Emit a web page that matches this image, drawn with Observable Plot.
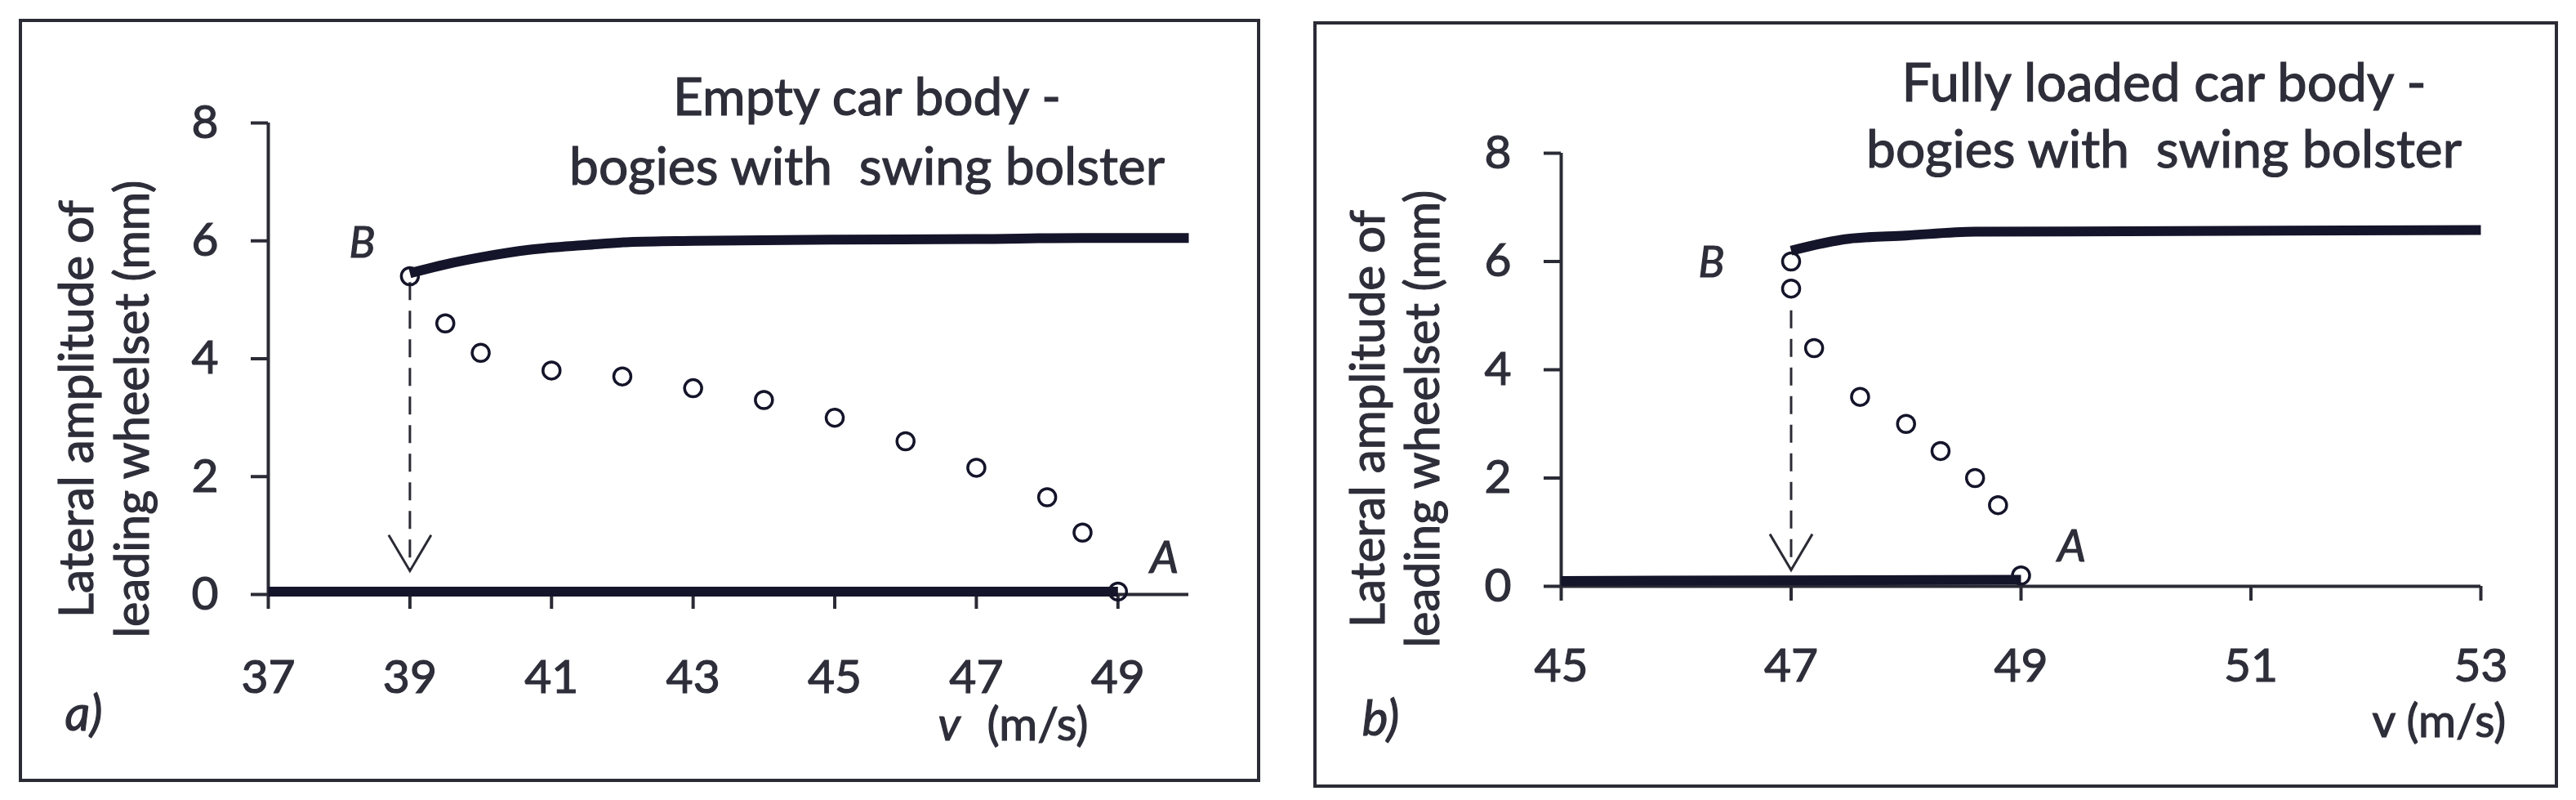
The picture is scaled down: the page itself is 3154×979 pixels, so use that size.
<!DOCTYPE html>
<html>
<head>
<meta charset="utf-8">
<script src="https://cdn.jsdelivr.net/npm/d3@7"></script>
<script src="https://cdn.jsdelivr.net/npm/@observablehq/plot@0.6"></script>
<style>
  html, body { margin: 0; padding: 0; background: #fff; width: 3154px; height: 979px; overflow: hidden; }
  .frame { position: absolute; border: 4px solid #2b2b36; box-sizing: border-box; }
  .panel { position: absolute; }
  .panel svg { overflow: visible; }
  .panel svg text { stroke: #2e2e3a; stroke-width: 1.2px; white-space: pre; }
</style>
</head>
<body>
<div id="root"></div>
<script>
// ---------- data ----------
const yTicks = [0, 2, 4, 6, 8];

// Panel a) empty car body
const titleA = ["Empty car body -", "bogies with  swing bolster"];
const xTicksA = [37, 39, 41, 43, 45, 47, 49];
const xDomainA = [37, 50];
const upperVA = [39, 39.5, 40, 40.7, 41.5, 42.1, 43, 45, 47, 48.5, 50];
const upperAmpA = [5.45, 5.6, 5.72, 5.85, 5.93, 5.98, 6.0, 6.02, 6.03, 6.05, 6.05];
const lowerVA = [37, 49];
const lowerAmpA = [0.05, 0.05];
const circVA = [39, 39.5, 40, 41, 42, 43, 44, 45, 46, 47, 48, 48.5, 49];
const circAmpA = [5.4, 4.6, 4.1, 3.8, 3.7, 3.5, 3.3, 3.0, 2.6, 2.15, 1.65, 1.05, 0.05];
const jumpA = {v: 39, from: 5.3, to: 0.4};

// Panel b) fully loaded car body
const titleB = ["Fully loaded car body -", "bogies with  swing bolster"];
const xTicksB = [45, 47, 49, 51, 53];
const xDomainB = [45, 53];
const upperVB = [47, 47.5, 48, 48.6, 53];
const upperAmpB = [6.2, 6.42, 6.48, 6.55, 6.58];
const lowerVB = [45, 49];
const lowerAmpB = [0.1, 0.12];
const circVB = [47, 47, 47.2, 47.6, 48, 48.3, 48.6, 48.8, 49];
const circAmpB = [6.0, 5.5, 4.4, 3.5, 3.0, 2.5, 2.0, 1.5, 0.2];
const jumpB = {v: 47, from: 5.1, to: 0.3};

const yLabelLines = ["Lateral amplitude of", "leading wheelset (mm)"];
const xUnitA = ["v", "(m/s)"];
const xUnitB = "v (m/s)";

// ---------- drawing ----------
const INK = "#14142a";
const TXT = "#2e2e3a";
const FONT = "Lato, 'Open Sans', sans-serif";

// measured text widths in the reference (px) used to fit the font size
const fitWidths = {
  "Empty car body -": 475,
  "Fully loaded car body -": 642,
  "bogies with  swing bolster": 729,
  "Lateral amplitude of": 511,
  "leading wheelset (mm)": 560
};

const toRows = (vs, as) => vs.map((v, i) => ({v, a: as[i]}));

const vHead = {
  draw(ctx) { ctx.moveTo(-26, -44); ctx.lineTo(0, 0); ctx.lineTo(26, -44); }
};

function panel(cfg) {
  const {W, H, ml, mr, mt, mb} = cfg;
  const lab = (str, px, py, o = {}) =>
    Plot.text([str], {text: d => d, frameAnchor: "top-left", dx: px - ml, dy: py - mt,
      fill: TXT, fontSize: 57, textAnchor: "middle", lineAnchor: "middle", ...o});
  const upper = toRows(cfg.upperV, cfg.upperAmp);
  const lower = toRows(cfg.lowerV, cfg.lowerAmp);
  const circ = toRows(cfg.circV, cfg.circAmp);
  const jump = [cfg.jump];
  const unitMarks = Array.isArray(cfg.unit)
    ? [lab(cfg.unit[0], cfg.vX, cfg.unitY, {textAnchor: "start", fontStyle: "italic", fontSize: 57}),
       lab(cfg.unit[1], cfg.unitX, cfg.unitY, {textAnchor: "start", fontSize: 57})]
    : [lab(cfg.unit, cfg.vX, cfg.unitY, {textAnchor: "start", fontSize: 56})];
  return Plot.plot({
    width: W, height: H,
    marginLeft: ml, marginRight: mr, marginTop: mt, marginBottom: mb,
    style: {fontFamily: FONT, fontSize: "57px", color: "#2b2b36", background: "transparent", overflow: "visible"},
    x: {domain: cfg.xDomain, label: null},
    y: {domain: [0, 8], label: null},
    marks: [
      Plot.axisX({ticks: cfg.xTicks, tickSize: 18, tickPadding: cfg.xPad, strokeWidth: 4, label: null,
        tickFormat: d => String(d), fontSize: 57, fill: TXT}),
      Plot.axisY({ticks: yTicks, tickSize: 21, tickPadding: 40, strokeWidth: 4, label: null,
        tickFormat: d => String(d), fontSize: 57, fill: TXT}),
      Plot.ruleY([0], {stroke: "#2b2b36", strokeWidth: 4}),
      Plot.ruleX([cfg.xDomain[0]], {y1: 0, y2: 8, stroke: "#2b2b36", strokeWidth: 4}),
      Plot.line(lower, {x: "v", y: "a", stroke: INK, strokeWidth: 12, strokeLinecap: "butt"}),
      Plot.line(upper, {x: "v", y: "a", stroke: INK, strokeWidth: 12, curve: "monotone-x", strokeLinecap: "butt"}),
      Plot.link(jump, {x1: "v", x2: "v", y1: "from", y2: "to", stroke: "#2b2b36", strokeWidth: 3, strokeDasharray: "22,13"}),
      Plot.dot(jump, {x: "v", y: "to", symbol: vHead, stroke: "#2b2b36", strokeWidth: 3, fill: "none"}),
      Plot.dot(circ, {x: "v", y: "a", r: 10.5, stroke: INK, strokeWidth: 3.5, fill: "none"}),
      // titles
      lab(cfg.title[0], cfg.titleX, cfg.title1Y, {fontSize: 61}),
      lab(cfg.title[1], cfg.titleX, cfg.title2Y, {fontSize: 61}),
      // y label (two rotated lines)
      lab(yLabelLines[0], cfg.yl1X, cfg.ylY, {rotate: -90, fontSize: 60}),
      lab(yLabelLines[1], cfg.yl2X, cfg.ylY, {rotate: -90, fontSize: 60}),
      // point labels
      lab("B", cfg.bX, cfg.bY, {fontStyle: "italic", fontSize: 53}),
      lab("A", cfg.aX, cfg.aY, {fontStyle: "italic", fontSize: 55}),
      // panel tag
      lab(cfg.tag, cfg.tagX, cfg.tagY, {fontStyle: "italic", fontSize: 60}),
      // x unit label
      ...unitMarks
    ]
  });
}

function fit(svg) {
  svg.querySelectorAll("text").forEach(t => {
    const w = fitWidths[t.textContent];
    if (!w) return;
    const fs = parseFloat(getComputedStyle(t).fontSize);
    const len = t.getComputedTextLength();
    if (len > 0 && fs > 0) t.setAttribute("font-size", (fs * w / len).toFixed(2));
  });
}

const root = document.getElementById("root");
const svgs = [];
function place(cfg, left, top, frame) {
  const f = document.createElement("div");
  f.className = "frame";
  Object.assign(f.style, {left: frame[0] + "px", top: frame[1] + "px", width: frame[2] + "px", height: frame[3] + "px"});
  root.appendChild(f);
  const d = document.createElement("div");
  d.className = "panel";
  d.style.left = left + "px";
  d.style.top = top + "px";
  const svg = panel(cfg);
  d.appendChild(svg);
  root.appendChild(d);
  svgs.push(svg);
}

// panel a: svg origin (25,25)
place({
  W: 1516, H: 930, ml: 303, mr: 86, mt: 125, mb: 228,
  xDomain: xDomainA, xTicks: xTicksA, xPad: 62,
  upperV: upperVA, upperAmp: upperAmpA, lowerV: lowerVA, lowerAmp: lowerAmpA,
  circV: circVA, circAmp: circAmpA, jump: jumpA, title: titleA,
  titleX: 1036, title1Y: 95, title2Y: 180,
  yl1X: 70, yl2X: 138, ylY: 475,
  bX: 418, bY: 273, aX: 1400, aY: 658,
  tag: "a)", tagX: 77, tagY: 849,
  unit: xUnitA, vX: 1123, unitX: 1183, unitY: 862
}, 25, 25, [23, 23, 1520, 934]);

// panel b: svg origin (1610,28)
place({
  W: 1520, H: 934, ml: 301, mr: 93, mt: 159, mb: 245,
  xDomain: xDomainB, xTicks: xTicksB, xPad: 58,
  upperV: upperVB, upperAmp: upperAmpB, lowerV: lowerVB, lowerAmp: lowerAmpB,
  circV: circVB, circAmp: circAmpB, jump: jumpB, title: titleB,
  titleX: 1039, title1Y: 75, title2Y: 156,
  yl1X: 66, yl2X: 133, ylY: 484,
  bX: 485, bY: 294, aX: 926, aY: 641,
  tag: "b)", tagX: 80, tagY: 852,
  unit: xUnitB, vX: 1294, unitY: 856
}, 1610, 28, [1608, 26, 1524, 938]);

svgs.forEach(fit);
if (document.fonts && document.fonts.ready) document.fonts.ready.then(() => svgs.forEach(fit));
</script>
</body>
</html>
